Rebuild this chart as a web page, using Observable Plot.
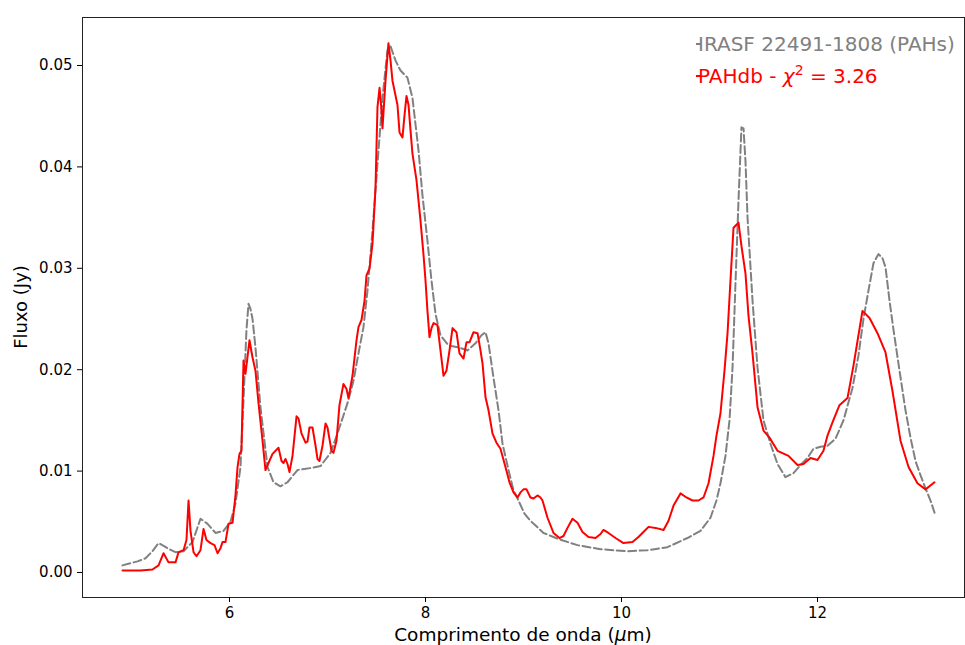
<!DOCTYPE html>
<html>
<head>
<meta charset="utf-8">
<script src="https://cdn.jsdelivr.net/npm/d3@7"></script>
<script src="https://cdn.jsdelivr.net/npm/@observablehq/plot@0.6"></script>
<style>
  html, body { margin: 0; padding: 0; background: white; }
  svg { display: block; }
</style>
</head>
<body>
<div id="chart"></div>
<script>
// Observed spectrum: [wavelength (µm), flux (Jy)]
const observed = [[4.908,0.0007],[5.061,0.0011],[5.143,0.0014],[5.214,0.0021],[5.276,0.0029],[5.367,0.0024],[5.449,0.0020],[5.531,0.0021],[5.622,0.0030],[5.704,0.0053],[5.776,0.0048],[5.857,0.0039],[5.939,0.0041],[6.010,0.0050],[6.061,0.0068],[6.112,0.0104],[6.143,0.0170],[6.173,0.0239],[6.194,0.0265],[6.214,0.0260],[6.235,0.0250],[6.265,0.0222],[6.316,0.0163],[6.388,0.0104],[6.449,0.0089],[6.520,0.0085],[6.592,0.0089],[6.694,0.0101],[6.827,0.0103],[6.929,0.0105],[7.031,0.0118],[7.112,0.0140],[7.204,0.0167],[7.265,0.0189],[7.316,0.0216],[7.367,0.0242],[7.408,0.0278],[7.459,0.0337],[7.510,0.0403],[7.561,0.0468],[7.612,0.0515],[7.643,0.0519],[7.694,0.0505],[7.745,0.0495],[7.816,0.0488],[7.867,0.0468],[7.929,0.0416],[7.969,0.0372],[8.020,0.0327],[8.061,0.0288],[8.102,0.0255],[8.153,0.0234],[8.235,0.0224],[8.337,0.0222],[8.429,0.0219],[8.510,0.0226],[8.571,0.0234],[8.612,0.0237],[8.643,0.0226],[8.694,0.0192],[8.745,0.0160],[8.786,0.0127],[8.847,0.0101],[8.898,0.0081],[8.939,0.0073],[9.010,0.0058],[9.071,0.0051],[9.204,0.0039],[9.357,0.0033],[9.551,0.0027],[9.786,0.0023],[10.061,0.0021],[10.265,0.0022],[10.469,0.0025],[10.673,0.0034],[10.806,0.0041],[10.908,0.0054],[10.969,0.0071],[11.010,0.0088],[11.061,0.0115],[11.102,0.0150],[11.133,0.0202],[11.163,0.0285],[11.194,0.0367],[11.224,0.0439],[11.245,0.0438],[11.265,0.0406],[11.286,0.0350],[11.337,0.0268],[11.388,0.0202],[11.449,0.0150],[11.520,0.0127],[11.592,0.0107],[11.673,0.0094],[11.755,0.0098],[11.827,0.0106],[11.898,0.0113],[11.959,0.0122],[12.031,0.0124],[12.102,0.0125],[12.184,0.0132],[12.265,0.0150],[12.357,0.0182],[12.418,0.0214],[12.469,0.0250],[12.520,0.0278],[12.571,0.0305],[12.622,0.0314],[12.663,0.0310],[12.694,0.0301],[12.735,0.0268],[12.776,0.0239],[12.837,0.0199],[12.898,0.0160],[12.949,0.0133],[13.000,0.0110],[13.051,0.0096],[13.102,0.0083],[13.153,0.0071],[13.194,0.0059]];

// PAHdb fit: [wavelength (µm), flux (Jy)]
const model = [[4.908,0.0002],[5.092,0.0002],[5.214,0.0003],[5.276,0.0007],[5.327,0.0019],[5.378,0.0010],[5.449,0.0010],[5.480,0.0020],[5.531,0.0022],[5.561,0.0032],[5.582,0.0071],[5.602,0.0041],[5.633,0.0020],[5.663,0.0016],[5.704,0.0022],[5.735,0.0043],[5.765,0.0032],[5.806,0.0029],[5.847,0.0027],[5.878,0.0019],[5.908,0.0024],[5.929,0.0030],[5.959,0.0030],[5.990,0.0048],[6.031,0.0049],[6.061,0.0076],[6.082,0.0104],[6.102,0.0117],[6.122,0.0120],[6.143,0.0209],[6.163,0.0196],[6.204,0.0229],[6.235,0.0212],[6.265,0.0199],[6.296,0.0167],[6.337,0.0130],[6.367,0.0101],[6.398,0.0108],[6.439,0.0117],[6.500,0.0123],[6.531,0.0110],[6.551,0.0108],[6.571,0.0112],[6.592,0.0107],[6.612,0.0099],[6.643,0.0115],[6.684,0.0154],[6.704,0.0152],[6.735,0.0137],[6.776,0.0128],[6.796,0.0129],[6.816,0.0143],[6.847,0.0143],[6.878,0.0125],[6.898,0.0112],[6.918,0.0110],[6.949,0.0125],[6.980,0.0147],[7.000,0.0143],[7.041,0.0120],[7.061,0.0118],[7.092,0.0130],[7.122,0.0165],[7.163,0.0186],[7.194,0.0181],[7.214,0.0172],[7.255,0.0194],[7.296,0.0229],[7.316,0.0242],[7.347,0.0249],[7.378,0.0268],[7.398,0.0293],[7.429,0.0300],[7.459,0.0324],[7.490,0.0380],[7.510,0.0459],[7.531,0.0478],[7.551,0.0456],[7.561,0.0438],[7.592,0.0485],[7.622,0.0522],[7.643,0.0505],[7.663,0.0485],[7.714,0.0461],[7.735,0.0434],[7.765,0.0429],[7.786,0.0451],[7.806,0.0470],[7.827,0.0461],[7.847,0.0436],[7.867,0.0413],[7.908,0.0387],[7.949,0.0347],[7.980,0.0313],[8.000,0.0288],[8.020,0.0258],[8.041,0.0232],[8.061,0.0241],[8.082,0.0246],[8.122,0.0244],[8.153,0.0219],[8.184,0.0194],[8.214,0.0199],[8.245,0.0219],[8.276,0.0241],[8.316,0.0237],[8.347,0.0216],[8.388,0.0211],[8.418,0.0227],[8.449,0.0227],[8.490,0.0237],[8.531,0.0236],[8.561,0.0219],[8.582,0.0206],[8.612,0.0173],[8.643,0.0160],[8.684,0.0137],[8.724,0.0128],[8.765,0.0122],[8.816,0.0104],[8.857,0.0089],[8.898,0.0079],[8.939,0.0074],[8.969,0.0079],[9.000,0.0082],[9.031,0.0082],[9.071,0.0074],[9.102,0.0073],[9.143,0.0076],[9.173,0.0074],[9.194,0.0071],[9.245,0.0054],[9.306,0.0039],[9.367,0.0034],[9.408,0.0036],[9.449,0.0044],[9.500,0.0053],[9.551,0.0049],[9.602,0.0040],[9.663,0.0035],[9.735,0.0034],[9.786,0.0038],[9.816,0.0042],[9.867,0.0039],[9.939,0.0034],[10.020,0.0029],[10.112,0.0030],[10.173,0.0035],[10.224,0.0040],[10.276,0.0045],[10.347,0.0044],[10.429,0.0042],[10.480,0.0051],[10.531,0.0066],[10.602,0.0078],[10.663,0.0074],[10.724,0.0071],[10.786,0.0071],[10.837,0.0074],[10.888,0.0088],[10.939,0.0115],[10.969,0.0135],[11.010,0.0157],[11.051,0.0199],[11.082,0.0236],[11.112,0.0288],[11.143,0.0340],[11.194,0.0345],[11.224,0.0322],[11.265,0.0295],[11.296,0.0253],[11.337,0.0216],[11.388,0.0163],[11.449,0.0140],[11.510,0.0133],[11.592,0.0120],[11.704,0.0115],[11.796,0.0106],[11.857,0.0107],[11.929,0.0113],[12.000,0.0111],[12.061,0.0120],[12.102,0.0135],[12.153,0.0148],[12.224,0.0165],[12.306,0.0172],[12.367,0.0204],[12.418,0.0234],[12.459,0.0258],[12.531,0.0251],[12.612,0.0236],[12.694,0.0217],[12.765,0.0179],[12.847,0.0130],[12.929,0.0104],[13.020,0.0088],[13.102,0.0082],[13.194,0.0089]];

const xTicks = [6, 8, 10, 12];
const yTicks = [0, 0.01, 0.02, 0.03, 0.04, 0.05];
const seriesNames = ["IRASF 22491-1808 (PAHs)", "PAHdb - "];
const chiText = "3.26";

const W = 965, H = 645;
const mL = 82, mR = 1, mT = 17, mB = 48;

const chart = Plot.plot({
  width: W, height: H,
  marginLeft: mL, marginRight: mR, marginTop: mT, marginBottom: mB,
  style: { fontFamily: "DejaVu Sans", fontSize: "15px", color: "#000", background: "white", overflow: "visible" },
  x: { domain: [4.5, 13.5] },
  y: { domain: [-0.002465, 0.054734] },
  marks: [
    Plot.line(observed, { x: d => d[0], y: d => d[1], stroke: "gray", strokeWidth: 2, strokeDasharray: "8,3.5", strokeLinejoin: "round" }),
    Plot.line(model, { x: d => d[0], y: d => d[1], stroke: "red", strokeWidth: 2, strokeLinejoin: "round" }),
    Plot.frame({ stroke: "#222", strokeWidth: 1 }),
    Plot.axisX({ ticks: xTicks, tickSize: 5, tickPadding: 5, label: null, tickFormat: d => String(d), fontSize: 15 }),
    Plot.axisY({ ticks: yTicks, tickSize: 5, tickPadding: 5, label: null, tickFormat: d3.format(".2f"), fontSize: 15 })
  ]
});

document.getElementById("chart").appendChild(chart);

const svg = d3.select(chart);
const font = "DejaVu Sans";

// x-axis label
const xl = svg.append("text")
  .attr("x", (mL + W - mR) / 2).attr("y", 641)
  .attr("text-anchor", "middle").attr("font-family", font).attr("font-size", 18.5).attr("fill", "#000");
xl.append("tspan").text("Comprimento de onda (");
xl.append("tspan").attr("font-style", "italic").text("μ");
xl.append("tspan").text("m)");

// y-axis label
svg.append("text")
  .attr("transform", `translate(27,${(mT + H - mB) / 2}) rotate(-90)`)
  .attr("text-anchor", "middle").attr("font-family", font).attr("font-size", 18).attr("fill", "#000")
  .text("Fluxo (Jy)");

// legend
const lx = 698;
svg.append("line").attr("x1", lx - 2).attr("x2", lx + 3).attr("y1", 44).attr("y2", 44)
  .attr("stroke", "gray").attr("stroke-width", 2);
svg.append("text").attr("x", lx).attr("y", 51).attr("text-anchor", "start")
  .attr("font-family", font).attr("font-size", 20)
  .attr("fill", "gray").text(seriesNames[0]);

svg.append("line").attr("x1", lx - 2).attr("x2", lx + 3).attr("y1", 76).attr("y2", 76)
  .attr("stroke", "red").attr("stroke-width", 2);
const l2 = svg.append("text").attr("x", lx).attr("y", 83).attr("text-anchor", "start")
  .attr("font-family", font).attr("font-size", 20).attr("fill", "red");
l2.append("tspan").text(seriesNames[1]);
l2.append("tspan").attr("font-style", "italic").text("χ");
l2.append("tspan").attr("font-size", 14).attr("dy", -8).text("2");
l2.append("tspan").attr("dy", 8).text(" = " + chiText);
</script>
</body>
</html>
